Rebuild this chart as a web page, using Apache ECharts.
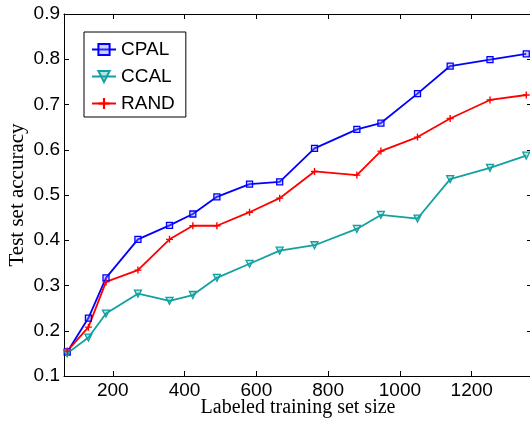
<!DOCTYPE html>
<html>
<head>
<meta charset="utf-8">
<script src="https://cdn.jsdelivr.net/npm/echarts@6/dist/echarts.min.js"></script>
<style>
html,body{margin:0;padding:0;background:#fff;}
#c{width:530px;height:421px;}
</style>
</head>
<body>
<div id="c"></div>
<script>
const trainingSizes = [73, 132, 181, 270, 358, 423, 490, 581, 665, 762, 880, 947, 1049, 1140, 1251, 1352];
const cpal = [0.153, 0.228, 0.317, 0.402, 0.433, 0.458, 0.496, 0.524, 0.529, 0.603, 0.645, 0.659, 0.724, 0.785, 0.799, 0.812];
const ccal = [0.150, 0.185, 0.238, 0.282, 0.266, 0.279, 0.317, 0.348, 0.377, 0.389, 0.425, 0.456, 0.448, 0.535, 0.560, 0.587];
const rand = [0.155, 0.208, 0.308, 0.334, 0.402, 0.432, 0.432, 0.462, 0.493, 0.552, 0.544, 0.597, 0.628, 0.669, 0.710, 0.721];
const xTicks = [200, 400, 600, 800, 1000, 1200];
const yTicks = [0.1, 0.2, 0.3, 0.4, 0.5, 0.6, 0.7, 0.8, 0.9];

const pair = ys => trainingSizes.map((x, i) => [x, ys[i]]);
const sans = 'Liberation Sans, Arial, sans-serif';
const serif = 'Liberation Serif, Times New Roman, serif';
const XMIN = 64, XMAX = 1368, YMIN = 0.1, YMAX = 0.9;

const axisLineStyle = {show: true, lineStyle: {color: '#000', width: 1}};
const chart = echarts.init(document.getElementById('c'), null, {renderer: 'canvas'});
chart.setOption({
  animation: false,
  backgroundColor: '#fff',
  grid: {left: 64, top: 14, right: -2, bottom: 45, containLabel: false, outerBoundsMode: 'none'},
  legend: {
    orient: 'vertical', left: 84, top: 32,
    padding: [8, 11, 4, 7],
    borderColor: '#000', borderWidth: 1, backgroundColor: '#fff',
    itemWidth: 24, itemHeight: 14, itemGap: 8,
    textStyle: {fontFamily: sans, fontSize: 19, lineHeight: 19, color: '#000'},
    data: ['CPAL', 'CCAL', 'RAND']
  },
  xAxis: [{
    type: 'value', min: XMIN, max: XMAX, position: 'bottom',
    name: 'Labeled training set size', nameLocation: 'middle', nameGap: 22, nameMoveOverlap: false,
    nameTextStyle: {fontFamily: serif, fontSize: 20, color: '#000'},
    axisLine: axisLineStyle, splitLine: {show: false},
    axisTick: {show: true, inside: true, length: 5, customValues: xTicks, lineStyle: {color: '#000'}},
    axisLabel: {customValues: xTicks, fontFamily: sans, fontSize: 19, color: '#000', margin: 5,
      formatter: v => String(v)}
  }, {
    type: 'value', min: XMIN, max: XMAX, position: 'top',
    axisLine: axisLineStyle, splitLine: {show: false},
    axisTick: {show: true, inside: true, length: 5, customValues: xTicks, lineStyle: {color: '#000'}},
    axisLabel: {show: false}
  }],
  yAxis: [{
    type: 'value', min: YMIN, max: YMAX, position: 'left',
    name: 'Test set accuracy', nameLocation: 'middle', nameGap: 36, nameMoveOverlap: false,
    nameTextStyle: {fontFamily: serif, fontSize: 21, color: '#000'},
    axisLine: axisLineStyle, splitLine: {show: false},
    axisTick: {show: true, inside: true, length: 5, customValues: yTicks, lineStyle: {color: '#000'}},
    axisLabel: {customValues: yTicks, fontFamily: sans, fontSize: 19, color: '#000', margin: 4,
      formatter: v => v.toFixed(1)}
  }, {
    type: 'value', min: YMIN, max: YMAX, position: 'right',
    axisLine: axisLineStyle, splitLine: {show: false},
    axisTick: {show: true, inside: true, length: 5, customValues: yTicks, lineStyle: {color: '#000'}},
    axisLabel: {show: false}
  }],
  series: [{
    name: 'CPAL', type: 'line', data: pair(cpal),
    symbol: 'rect', symbolSize: 6, showAllSymbol: true,
    lineStyle: {color: '#0000ff', width: 1.8},
    itemStyle: {color: 'rgba(120,120,255,0.35)', borderColor: '#0000ff', borderWidth: 1.3}
  }, {
    name: 'CCAL', type: 'line', data: pair(ccal),
    symbol: 'triangle', symbolRotate: 180, symbolSize: 7, showAllSymbol: true,
    lineStyle: {color: '#13a0a0', width: 1.8},
    itemStyle: {color: 'rgba(19,160,160,0.3)', borderColor: '#13a0a0', borderWidth: 1.3}
  }, {
    name: 'RAND', type: 'line', data: pair(rand),
    symbol: 'path://M4,0H6V4H10V6H6V10H4V6H0V4H4Z', symbolSize: 7, showAllSymbol: true,
    lineStyle: {color: '#ff0000', width: 1.8},
    itemStyle: {color: '#ff0000', borderWidth: 0}
  }]
});
</script>
</body>
</html>
